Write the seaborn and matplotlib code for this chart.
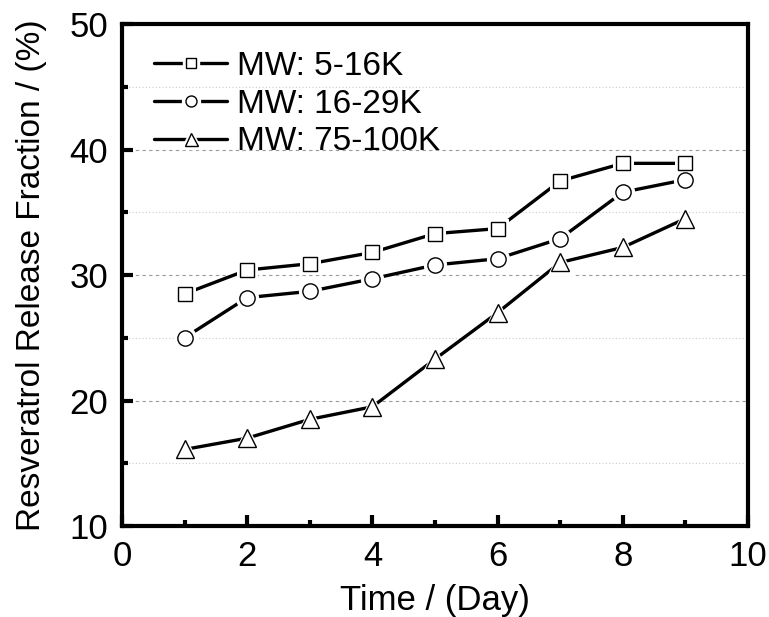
import numpy as np
import pandas as pd
import matplotlib
matplotlib.use('Agg')
import matplotlib.pyplot as plt
import seaborn as sns
from matplotlib.lines import Line2D
from matplotlib.legend_handler import HandlerTuple
from matplotlib.ticker import MultipleLocator

# Data
days = [1, 2, 3, 4, 5, 6, 7, 8, 9]
mw_5_16k = [28.5, 30.4, 30.9, 31.8, 33.3, 33.7, 37.5, 38.9, 38.9]
mw_16_29k = [25.0, 28.2, 28.7, 29.7, 30.8, 31.3, 32.9, 36.6, 37.6]
mw_75_100k = [16.1, 17.0, 18.5, 19.5, 23.3, 27.0, 31.0, 32.2, 34.5]
labels = ['MW: 5-16K', 'MW: 16-29K', 'MW: 75-100K']
markers = ['s', 'o', '^']
marker_sizes = [9.5, 11, 13]

df = pd.DataFrame({'day': days * 3,
                   'release': mw_5_16k + mw_16_29k + mw_75_100k,
                   'group': sum([[l] * len(days) for l in labels], [])})

sns.set_style("white")
plt.rcParams['font.family'] = ['Liberation Sans', 'DejaVu Sans']
plt.rcParams['text.color'] = 'black'
plt.rcParams['axes.labelcolor'] = 'black'
plt.rcParams['xtick.color'] = 'black'
plt.rcParams['ytick.color'] = 'black'

fig = plt.figure(figsize=(7.69, 6.17), dpi=100)
ax = fig.add_axes([0.1586, 0.1475, 0.8141, 0.8135])

lw = 2.4
handles = []
for lab, mk, ms in zip(labels, markers, marker_sizes):
    sub = df[df['group'] == lab]
    sns.lineplot(data=sub, x='day', y='release', ax=ax, color='black',
                 linewidth=lw, zorder=2, legend=False)
    # white halo so the line breaks around each marker
    sns.lineplot(data=sub, x='day', y='release', ax=ax, linestyle='none',
                 marker=mk, markersize=ms + 5, markerfacecolor='white',
                 markeredgecolor='white', color='white', zorder=3, legend=False)
    sns.lineplot(data=sub, x='day', y='release', ax=ax, linestyle='none',
                 marker=mk, markersize=ms, markerfacecolor='white',
                 markeredgecolor='black', markeredgewidth=1.0, color='black',
                 zorder=4, legend=False)
    h_line = Line2D([], [], color='black', linewidth=lw)
    h_halo = Line2D([], [], linestyle='none', marker=mk, markersize=ms * 0.72 + 5,
                    markerfacecolor='white', markeredgecolor='white')
    h_mark = Line2D([], [], linestyle='none', marker=mk, markersize=ms * 0.72,
                    markerfacecolor='white', markeredgecolor='black',
                    markeredgewidth=1.0)
    handles.append((h_line, h_halo, h_mark))

ax.set_xlim(0, 10)
ax.set_ylim(10, 50)
ax.xaxis.set_major_locator(MultipleLocator(2))
ax.xaxis.set_minor_locator(MultipleLocator(1))
ax.yaxis.set_major_locator(MultipleLocator(10))
ax.yaxis.set_minor_locator(MultipleLocator(5))

ax.grid(True, which='major', axis='y', color='#999999', linestyle=(0, (3, 3)), linewidth=0.8)
ax.grid(True, which='minor', axis='y', color='#cccccc', linestyle=(0, (1, 2)), linewidth=0.8)
ax.set_axisbelow(True)

for spine in ax.spines.values():
    spine.set_edgecolor('black')
    spine.set_linewidth(3)

ax.tick_params(axis='both', which='major', direction='in', length=8, width=3,
               labelsize=25, pad=10, left=True, bottom=True,
               color='black', labelcolor='black')
ax.tick_params(axis='both', which='minor', direction='in', length=4, width=3,
               left=True, bottom=True, color='black')

ax.set_xlabel('Time / (Day)', fontsize=25, labelpad=8, color='black')
ax.set_ylabel('Resveratrol Release Fraction / (%)', fontsize=24, labelpad=16,
              color='black')

leg = ax.legend(handles, labels, handler_map={tuple: HandlerTuple(ndivide=1)},
                loc='upper left', frameon=False, fontsize=24, handlelength=2.2,
                handletextpad=0.3, labelspacing=0.2, borderaxespad=0.0,
                bbox_to_anchor=(0.03, 0.973))
for txt in leg.get_texts():
    txt.set_color('black')

plt.savefig('out.png', dpi=100, facecolor='white')
